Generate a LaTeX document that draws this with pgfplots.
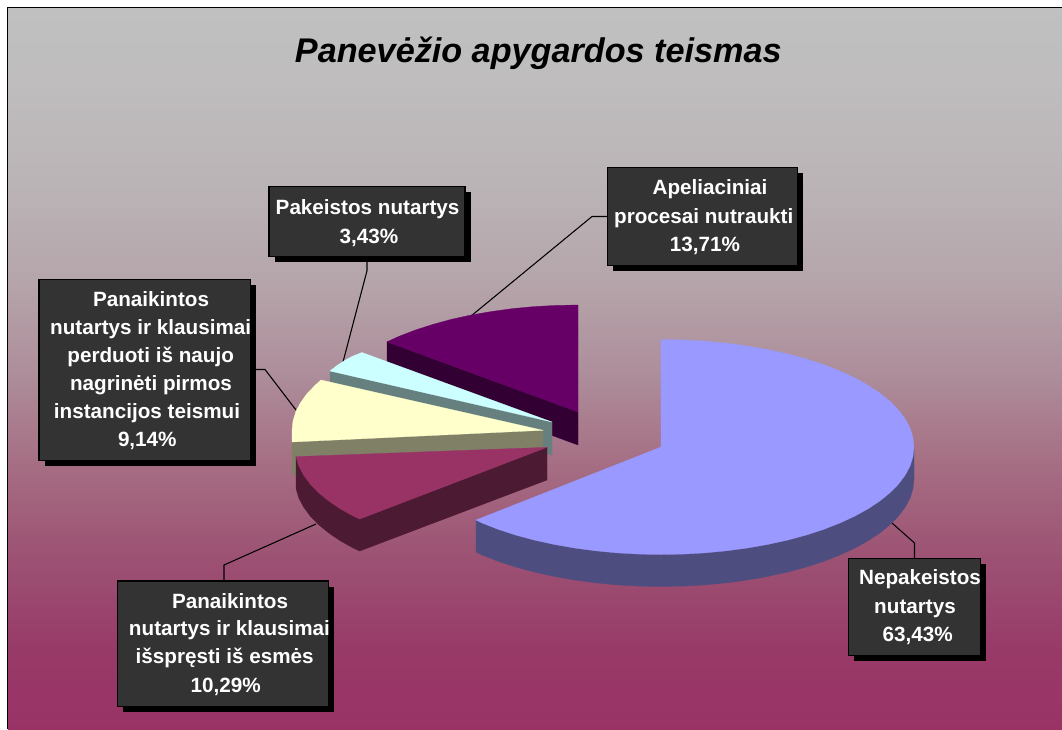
\documentclass[border=0pt]{standalone}
\usepackage{fontspec}
\setmainfont{Liberation Sans}
\usepackage{pgfplots}
\pgfplotsset{compat=1.18}
\definecolor{bgtop}{HTML}{C0C0C0}
\definecolor{bga}{HTML}{BFBDBE}
\definecolor{bgb}{HTML}{BAB3B5}
\definecolor{bgc}{HTML}{B5A5AA}
\definecolor{bgd}{HTML}{AD8D9A}
\definecolor{bge}{HTML}{A56C82}
\definecolor{bgf}{HTML}{9C5173}
\definecolor{bgg}{HTML}{983A68}
\definecolor{bgbot}{HTML}{993366}
\pgfdeclareverticalshading{chartbg}{100bp}{color(0bp)=(bgbot); color(25bp)=(bgbot); color(30.5bp)=(bgg); color(36.75bp)=(bgf); color(43bp)=(bge); color(49.5bp)=(bgd); color(56bp)=(bgc); color(62.25bp)=(bgb); color(70bp)=(bga); color(75bp)=(bgtop); color(100bp)=(bgtop)}
\definecolor{boxfill}{HTML}{333333}
\definecolor{mainT}{HTML}{9999FF}
\definecolor{mainS}{HTML}{4D4D80}
\definecolor{purT}{HTML}{660066}
\definecolor{purS}{HTML}{330033}
\definecolor{cyaT}{HTML}{CCFFFF}
\definecolor{cyaS}{HTML}{668080}
\definecolor{yelT}{HTML}{FFFFCC}
\definecolor{yelS}{HTML}{808066}
\definecolor{marT}{HTML}{993366}
\definecolor{marS}{HTML}{4D1A33}
% pixel coordinates of the reference, y runs downward
\newcommand{\lbl}[3]{\node[anchor=base,inner sep=0pt,text=white,font=\fontsize{15.5}{15.5}\selectfont\bfseries] at (axis cs:#1,#2) {#3};}
\newcommand{\calloutbox}[4]{%
  \fill[black] (axis cs:#1+5.5,#2+5.5) rectangle (axis cs:#3+5.5,#4+5.5);
  \filldraw[draw=black,line width=0.8pt,fill=boxfill] (axis cs:#1,#2) rectangle (axis cs:#3,#4);}
\begin{document}
\begin{tikzpicture}
\begin{axis}[scale only axis,width=796.5pt,height=546.75pt,
  xmin=0,xmax=1062,ymin=0,ymax=729,y dir=reverse,hide axis,
  slice/.style={draw=#1,line width=0.2pt,fill=#1}]
  % chart area
  \fill[white] (axis cs:0,0) rectangle (axis cs:1062,729);
  \path[shading=chartbg] (axis cs:8,8) rectangle (axis cs:1062,729);
  \draw[black,line width=1pt] (axis cs:7.5,729) -- (axis cs:7.5,7.5) -- (axis cs:1062,7.5);

  % leader lines
  \draw[black,line width=0.8pt] (axis cs:607,216.5) -- (axis cs:592,216.5) -- (axis cs:471.4,315.7);
  \draw[black,line width=0.8pt] (axis cs:367,257) -- (axis cs:367,270.7) -- (axis cs:343,362);
  \draw[black,line width=0.8pt] (axis cs:250,369.5) -- (axis cs:265,369.5) -- (axis cs:296,410);
  \draw[black,line width=0.8pt] (axis cs:224,581) -- (axis cs:224,565) -- (axis cs:316,524);
  \draw[black,line width=0.8pt] (axis cs:892,523) -- (axis cs:914.5,543) -- (axis cs:914.5,558);

  % Apeliaciniai procesai nutraukti
  \addplot[slice=purS] coordinates {(387,341.8) (578,412) (578,445) (387,374.8)} --cycle;
  \addplot[slice=purT] coordinates {(578,412) (578,305) (556,305.4) (534.1,306.6) (512.5,308.6) (491.5,311.5) (471.1,315) (451.5,319.3) (432.9,324.4) (415.4,330) (399.1,336.3) (387,341.8)} --cycle;
  % Pakeistos nutartys
  \addplot[slice=cyaS] coordinates {(330,371) (552,422) (552,455) (330,404)} --cycle;
  \addplot[slice=cyaT] coordinates {(552,422) (362,352.5) (353,356) (345,360.3) (337,365.5) (330,371)} --cycle;
  % Panaikintos ... pirmos instancijos teismui
  \addplot[slice=yelS] coordinates {(292,442) (543,430.3) (543,463) (292,474.7)} --cycle;
  \addplot[slice=yelT] coordinates {(543,430.3) (321,380) (315.5,384.9) (307.1,393.5) (300.6,402.6) (295.8,411.7) (293,421) (292,430.3) (292,442)} --cycle;
  % Panaikintos ... isspresti is esmes
  \addplot[slice=marS] coordinates {(296,456.6) (298.8,466) (303.6,475) (310.2,484) (318.6,492.7) (328.8,501) (340.6,509) (354,516.4) (359.7,519) (547,447.3) (547,480) (359.7,551) (354,548.4) (340.6,541) (328.8,533) (318.6,524.7) (310.2,516) (303.6,507) (298.8,498) (296,488.6)} --cycle;
  \addplot[slice=marT] coordinates {(547,447.3) (296,456.6) (298.8,466) (303.6,475) (310.2,484) (318.6,492.7) (328.8,501) (340.6,509) (354,516.4) (359.7,519)} --cycle;
  % Nepakeistos nutartys
  \addplot[slice=mainS] coordinates {(914,447) (913,456.4) (910.2,465.7) (905.4,474.8) (898.7,483.8) (890.3,492.4) (880.1,500.8) (868.2,508.7) (854.8,516.1) (839.9,523) (823.6,529.4) (806.1,535.1) (787.5,540.1) (767.9,544.4) (747.5,548) (726.5,550.8) (704.9,552.9) (683,554.1) (661,554.5) (639,554.1) (617.1,552.9) (595.5,550.8) (574.5,548) (554.1,544.4) (534.5,540.1) (515.9,535.1) (498.4,529.4) (482.1,523) (476,520)
    (476,552) (482.1,555) (498.4,561.4) (515.9,567.1) (534.5,572.1) (554.1,576.4) (574.5,580) (595.5,582.8) (617.1,584.9) (639,586.1) (661,586.5) (683,586.1) (704.9,584.9) (726.5,582.8) (747.5,580) (767.9,576.4) (787.5,572.1) (806.1,567.1) (823.6,561.4) (839.9,555) (854.8,548.1) (868.2,540.7) (880.1,532.8) (890.3,524.4) (898.7,515.8) (905.4,506.8) (910.2,497.7) (913,488.4) (914,479)} --cycle;
  \addplot[slice=mainT] coordinates {(661,447) (661,339.5) (683,339.9) (704.9,341.1) (726.5,343.2) (747.5,346) (767.9,349.6) (787.5,353.9) (806.1,358.9) (823.6,364.6) (839.9,371) (854.8,377.9) (868.2,385.3) (880.1,393.3) (890.3,401.6) (898.7,410.2) (905.4,419.2) (910.2,428.3) (913,437.6) (914,447) (913,456.4) (910.2,465.7) (905.4,474.8) (898.7,483.8) (890.3,492.4) (880.1,500.8) (868.2,508.7) (854.8,516.1) (839.9,523) (823.6,529.4) (806.1,535.1) (787.5,540.1) (767.9,544.4) (747.5,548) (726.5,550.8) (704.9,552.9) (683,554.1) (661,554.5) (639,554.1) (617.1,552.9) (595.5,550.8) (574.5,548) (554.1,544.4) (534.5,540.1) (515.9,535.1) (498.4,529.4) (482.1,523) (476,520)} --cycle;

  % title
  \node[anchor=base,inner sep=0pt,text=black,font=\fontsize{25.65}{25.65}\selectfont\bfseries\itshape] at (axis cs:538.3,62.7) {Panevėžio apygardos teismas};

  % callouts
  \calloutbox{607.5}{167.3}{797.5}{265.3}
  \lbl{710}{194.7}{Apeliaciniai}
  \lbl{703.7}{223.1}{procesai nutraukti}
  \lbl{705}{251.4}{13,71\%}

  \calloutbox{269}{186.7}{465}{256.7}
  \lbl{367.6}{214.1}{Pakeistos nutartys}
  \lbl{369}{243.1}{3,43\%}

  \calloutbox{39}{279.3}{250.3}{460.7}
  \lbl{151}{306.4}{Panaikintos}
  \lbl{150.7}{334.1}{nutartys ir klausimai}
  \lbl{150.7}{362.4}{perduoti iš naujo}
  \lbl{151}{390.7}{nagrinėti pirmos}
  \lbl{147}{418.4}{instancijos teismui}
  \lbl{147.3}{446.4}{9,14\%}

  \calloutbox{117.3}{581}{328.3}{706.3}
  \lbl{230}{608.1}{Panaikintos}
  \lbl{229.5}{635.7}{nutartys ir klausimai}
  \lbl{224.7}{663.4}{išspręsti iš esmės}
  \lbl{225.7}{692.4}{10,29\%}

  \calloutbox{848.3}{558.3}{980.7}{655.7}
  \lbl{920}{584.7}{Nepakeistos}
  \lbl{915}{613.4}{nutartys}
  \lbl{917.7}{641.4}{63,43\%}
\end{axis}
\end{tikzpicture}
\end{document}
